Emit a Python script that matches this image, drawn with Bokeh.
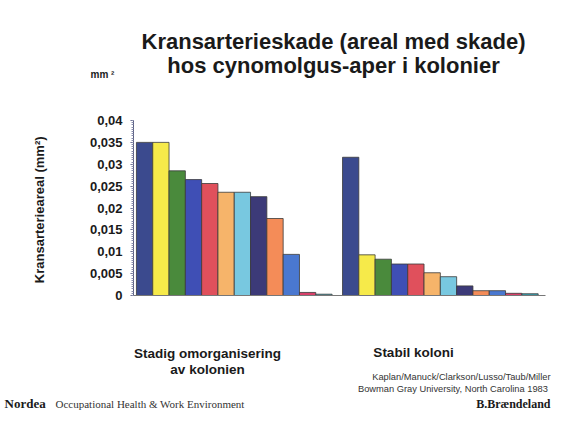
from bokeh.plotting import figure
from bokeh.layouts import column
from bokeh.models import Range1d, FixedTicker, Label, ColumnDataSource
from bokeh.embed import file_html
from bokeh.resources import INLINE

# ---------------- data ----------------
title_lines = ["Kransarterieskade (areal med skade)", "hos cynomolgus-aper i kolonier"]
group_unstable_label = ["Stadig omorganisering", "av kolonien"]
group_stable_label = ["Stabil koloni"]
citation = ["Kaplan/Manuck/Clarkson/Lusso/Taub/Miller",
            "Bowman Gray University,  North Carolina 1983"]
y_axis_title = "Kransarterieareal  (mm\u00b2)"
unit_note = "mm \u00b2"

unstable_values = [0.035, 0.035, 0.0285, 0.0265, 0.0256, 0.0236, 0.0236, 0.0226,
                   0.0176, 0.0094, 0.0007, 0.0003]
stable_values = [0.0316, 0.0093, 0.0083, 0.0072, 0.0072, 0.0052, 0.0043, 0.0022,
                 0.0011, 0.0011, 0.0005, 0.0004]
bar_colors = ["#3b4a8e", "#f6ea4a", "#4a8a3c", "#3f4fb5", "#e0505c", "#f6b46a",
              "#78c8e0", "#3c3a78", "#f48c58", "#4a78d0", "#d8406a", "#3aa0b0"]

y_ticks = [0, 0.005, 0.01, 0.015, 0.02, 0.025, 0.03, 0.035, 0.04]
y_tick_labels = ["0", "0,005", "0,01", "0,015", "0,02", "0,025", "0,03", "0,035", "0,04"]

footer_left_bold = "Nordea"
footer_left = "Occupational Health & Work Environment"
footer_right = "B.Brændeland"

# ---------------- layout constants ----------------
W = 551
H_TOP, H_MAIN, H_BOT = 100, 210, 100
BL, BR, BT, BB = 133, 6, 20, 15
X0, X1 = -0.18, 25.09
GROUP2_START = 12.64


def text_panel(h):
    f = figure(width=W, height=h, output_backend="svg", toolbar_location=None,
               x_range=Range1d(0, W), y_range=Range1d(h, 0), min_border=0,
               frame_align=False)
    f.axis.visible = False
    f.grid.visible = False
    f.outline_line_color = None
    f.background_fill_color = "white"
    f.border_fill_color = "white"
    return f


def add_text(f, text, x, y, size, bold=False, font="Liberation Sans", align="center",
             color="#1a1a1a"):
    f.add_layout(Label(x=x, y=y, text=text, text_font=font,
                       text_font_size=f"{size}px",
                       text_font_style="bold" if bold else "normal",
                       text_align=align, text_baseline="middle", text_color=color))


# ---------------- header ----------------
top = text_panel(H_TOP)
add_text(top, title_lines[0], 333, 41, 22, bold=True)
add_text(top, title_lines[1], 333, 65, 22, bold=True)
add_text(top, unit_note, 90, 74, 10, bold=True, align="left")

# ---------------- main chart ----------------
p = figure(width=W, height=H_MAIN, output_backend="svg", toolbar_location=None,
           x_range=Range1d(X0, X1), y_range=Range1d(0, 0.04), frame_align=False)
p.min_border_left = BL
p.min_border_right = BR
p.min_border_top = BT
p.min_border_bottom = BB
p.outline_line_color = None
p.grid.visible = False
p.background_fill_color = "white"
p.border_fill_color = "white"

xs = [i + 0.5 for i in range(len(unstable_values))] + \
     [GROUP2_START + i + 0.5 for i in range(len(stable_values))]
tops = unstable_values + stable_values
cols = bar_colors + bar_colors
src = ColumnDataSource(dict(x=xs, top=tops, color=cols))
p.vbar(x="x", top="top", width=1.0, bottom=0, source=src, fill_color="color",
       line_color="#3a3a3a", line_width=0.8)

yax = p.yaxis[0]
yax.ticker = FixedTicker(ticks=y_ticks, minor_ticks=[i * 0.0005 for i in range(81)])
yax.major_label_overrides = {t: l for t, l in zip(y_ticks, y_tick_labels)}
yax.major_label_text_font = "Liberation Sans"
yax.major_label_text_font_style = "bold"
yax.major_label_text_font_size = "13px"
yax.major_label_text_color = "#1a1a1a"
yax.major_tick_in = 0
yax.major_tick_out = 3
yax.minor_tick_in = 0
yax.minor_tick_out = 2
yax.major_label_standoff = 8
yax.axis_line_color = "#5a5f80"
yax.major_tick_line_color = "#5a5f80"
yax.minor_tick_line_color = "#8a8fb0"
yax.axis_label = y_axis_title
yax.axis_label_text_font = "Liberation Sans"
yax.axis_label_text_font_style = "bold"
yax.axis_label_text_font_size = "13px"
yax.axis_label_text_color = "#1a1a1a"
yax.axis_label_standoff = 40

xax = p.xaxis[0]
xax.ticker = FixedTicker(ticks=[])
xax.major_label_text_font_size = "0px"
xax.axis_line_color = "#777777"
xax.major_tick_line_color = None
xax.minor_tick_line_color = None

# ---------------- footer area ----------------
bot = text_panel(H_BOT)
oy = H_TOP + H_MAIN
add_text(bot, group_unstable_label[0], 207, 353 - oy, 13.5, bold=True)
add_text(bot, group_unstable_label[1], 207, 369 - oy, 13.5, bold=True)
add_text(bot, group_stable_label[0], 413, 352 - oy, 13.5, bold=True)
add_text(bot, citation[0], 550, 376 - oy, 9.3, align="right", color="#333333")
add_text(bot, citation[1], 550, 388 - oy, 9.3, align="right", color="#333333")
add_text(bot, footer_left_bold, 4, 403 - oy, 13, bold=True, font="Liberation Serif", align="left")
add_text(bot, footer_left, 55, 403 - oy, 11, font="Liberation Serif", align="left", color="#333333")
add_text(bot, footer_right, 550, 403 - oy, 12, bold=True, font="Liberation Serif", align="right")

layout = column(top, p, bot, spacing=0)
open("out.html", "w").write(file_html(layout, INLINE))
